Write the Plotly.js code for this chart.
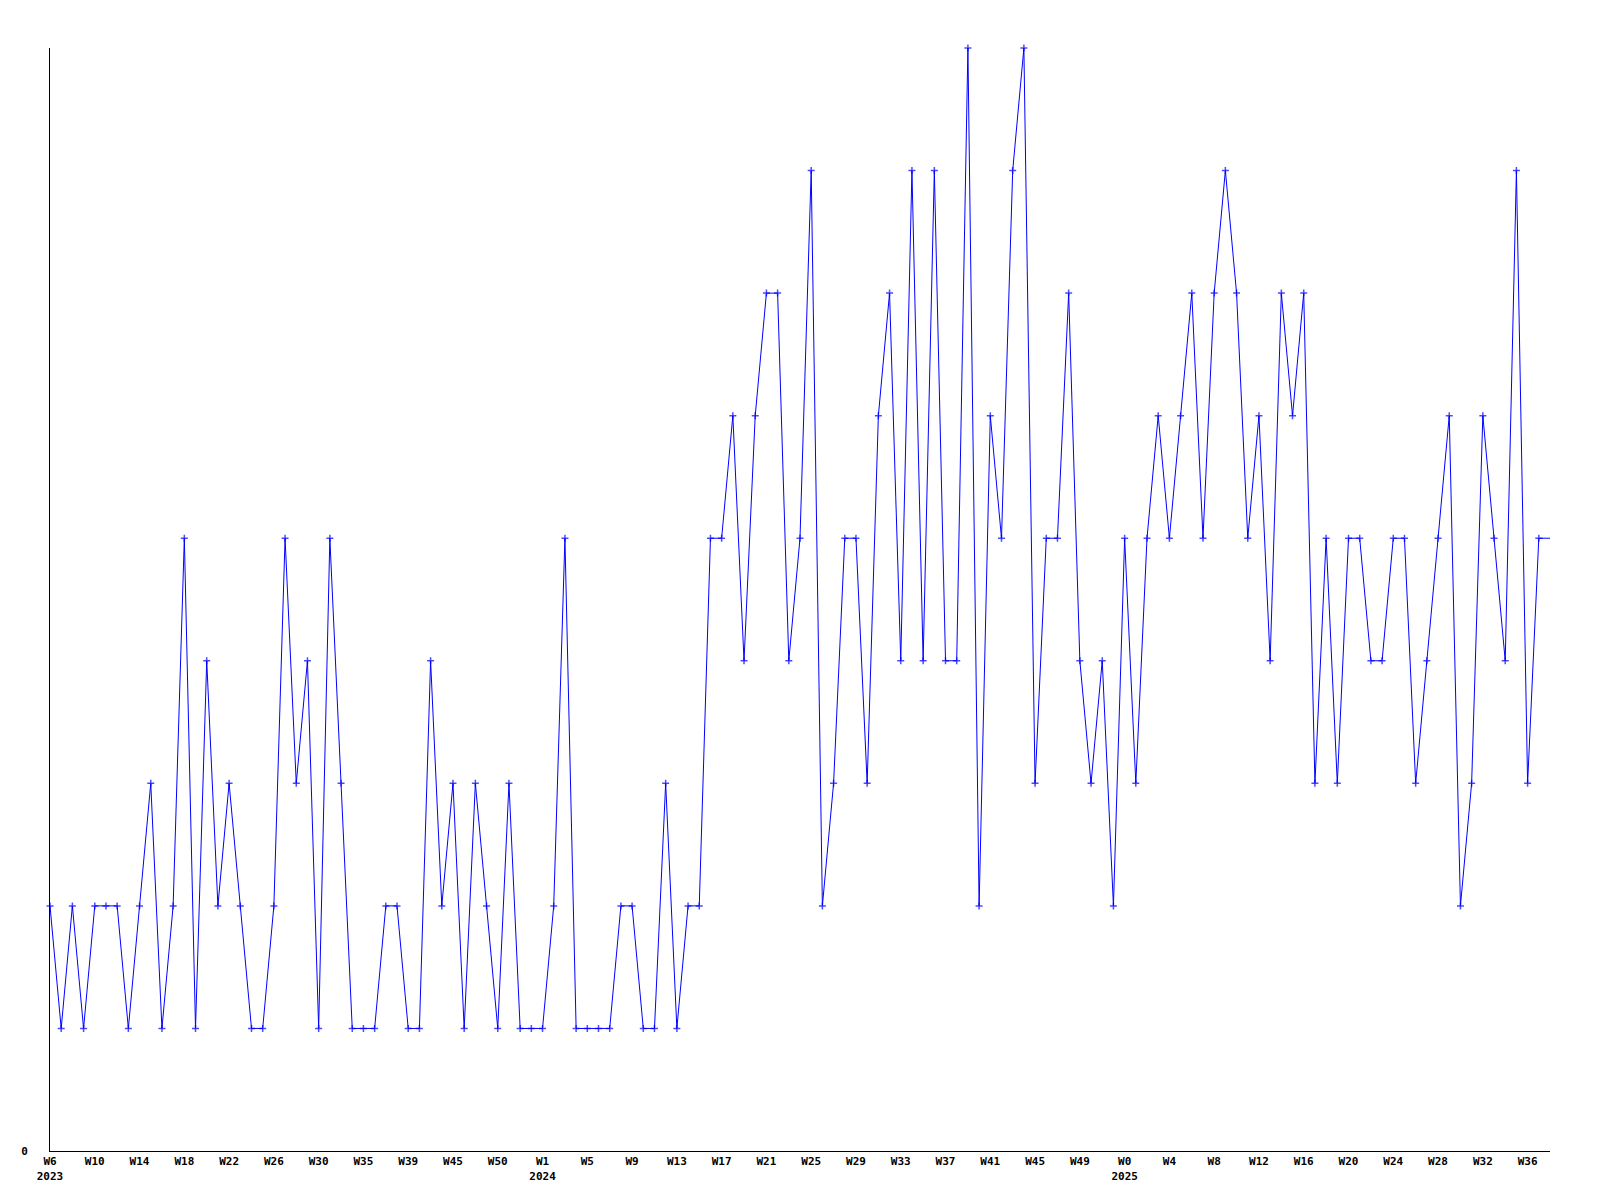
<!DOCTYPE html>
<html>
<head>
<meta charset="utf-8">
<script src="https://cdn.plot.ly/plotly-3.0.1.min.js"></script>
<style>html,body{margin:0;padding:0;background:#fff;}#chart{width:1600px;height:1200px;}</style>
</head>
<body>
<div id="chart"></div>
<script>
// Weekly values, 2023 W6 onwards (one value per point)
const values = [
  2,1,2,1,2,2,2,1,2,3,
  1,2,5,1,4,2,3,2,1,1,
  2,5,3,4,1,5,3,1,1,1,
  2,2,1,1,4,2,3,1,3,2,
  1,3,1,1,1,2,5,1,1,1,
  1,2,2,1,1,3,1,2,2,5,
  5,6,4,6,7,7,4,5,8,2,
  3,5,5,3,6,7,4,8,4,8,
  4,4,9,2,6,5,8,9,3,5,
  5,7,4,3,4,2,5,3,5,6,
  5,6,7,5,7,8,7,5,6,4,
  7,6,7,3,5,3,5,5,4,4,
  5,5,3,4,5,6,2,3,6,5,
  4,8,3,5,5
];
// Tick labels shown every 4th point
const weekLabels = [
  "W6","W10","W14","W18","W22","W26","W30","W35","W39","W45","W50",
  "W1","W5","W9","W13","W17","W21","W25","W29","W33","W37","W41","W45","W49",
  "W0","W4","W8","W12","W16","W20","W24","W28","W32","W36"
];
const yearLabels = {0:"2023", 11:"2024", 24:"2025"};
const tickStep = 4;

const xs = values.map((_, i) => i);
const tickvals = weekLabels.map((_, k) => k * tickStep);
const ticktext = weekLabels.map((w, k) => yearLabels[k] ? w + "<br>" + yearLabels[k] : w);
const markerSizes = values.map((_, i) => i === values.length - 1 ? 0 : 5);

const font = {family: "DejaVu Sans Mono, Liberation Mono, monospace", size: 11, color: "#000"};

Plotly.newPlot("chart", [{
  type: "scatter",
  mode: "lines+markers",
  x: xs,
  y: values,
  line: {color: "#0000ff", width: 1},
  marker: {symbol: "cross-thin", size: markerSizes, color: "#0000ff", line: {color: "#0000ff", width: 1.5}},
  cliponaxis: false,
  hoverinfo: "skip"
}], {
  width: 1600,
  height: 1200,
  margin: {l: 50, r: 50, t: 48, b: 49, pad: 0},
  paper_bgcolor: "#fff",
  plot_bgcolor: "#fff",
  showlegend: false,
  font: font,
  xaxis: {
    range: [0, values.length - 1],
    showgrid: false,
    zeroline: false,
    showline: true,
    linecolor: "#000",
    linewidth: 1,
    ticks: "",
    tickmode: "array",
    tickvals: tickvals,
    ticktext: ticktext,
    tickangle: 0,
    tickfont: {family: font.family, size: 11, color: "#000", weight: "bold"}
  },
  yaxis: {
    range: [0, 9],
    showgrid: false,
    zeroline: false,
    showline: true,
    linecolor: "#000",
    linewidth: 1,
    ticks: "",
    tickmode: "array",
    tickvals: [0],
    ticktext: ["0"],
    ticklabelstandoff: 19,
    tickfont: {family: font.family, size: 11, color: "#000", weight: "bold"}
  }
}, {displayModeBar: false, staticPlot: true});
</script>
</body>
</html>
